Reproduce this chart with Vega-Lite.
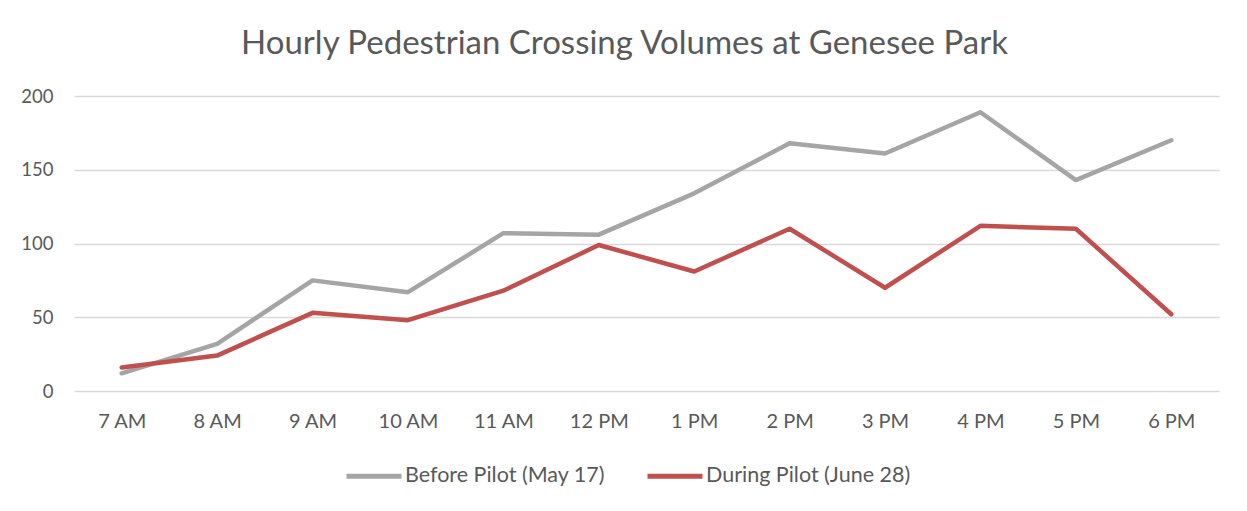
{
  "$schema": "https://vega.github.io/schema/vega-lite/v6.json",
  "autosize": {"type": "none"},
  "width": 1145,
  "height": 295,
  "padding": {"left": 74, "top": 96, "right": 28, "bottom": 120},
  "background": "white",
  "config": {
    "font": "Lato",
    "view": {"stroke": null},
    "axis": {"labelColor": "#595959", "labelFont": "Lato", "titleColor": "#595959"},
    "legend": {"labelColor": "#595959", "labelFont": "Lato", "labelFontSize": 21.5, "labelLimit": 400}
  },
  "title": {
    "text": "Hourly Pedestrian Crossing Volumes at Genesee Park",
    "font": "Lato",
    "fontSize": 33,
    "fontWeight": "normal",
    "color": "#595959",
    "anchor": "middle",
    "dx": -22,
    "offset": 26
  },
  "data": {
    "values": [
      {"hour": "7 AM", "series": "Before Pilot (May 17)", "count": 12},
      {"hour": "8 AM", "series": "Before Pilot (May 17)", "count": 32},
      {"hour": "9 AM", "series": "Before Pilot (May 17)", "count": 75},
      {"hour": "10 AM", "series": "Before Pilot (May 17)", "count": 67},
      {"hour": "11 AM", "series": "Before Pilot (May 17)", "count": 107},
      {"hour": "12 PM", "series": "Before Pilot (May 17)", "count": 106},
      {"hour": "1 PM", "series": "Before Pilot (May 17)", "count": 134},
      {"hour": "2 PM", "series": "Before Pilot (May 17)", "count": 168},
      {"hour": "3 PM", "series": "Before Pilot (May 17)", "count": 161},
      {"hour": "4 PM", "series": "Before Pilot (May 17)", "count": 189},
      {"hour": "5 PM", "series": "Before Pilot (May 17)", "count": 143},
      {"hour": "6 PM", "series": "Before Pilot (May 17)", "count": 170},
      {"hour": "7 AM", "series": "During Pilot (June 28)", "count": 16},
      {"hour": "8 AM", "series": "During Pilot (June 28)", "count": 24},
      {"hour": "9 AM", "series": "During Pilot (June 28)", "count": 53},
      {"hour": "10 AM", "series": "During Pilot (June 28)", "count": 48},
      {"hour": "11 AM", "series": "During Pilot (June 28)", "count": 68},
      {"hour": "12 PM", "series": "During Pilot (June 28)", "count": 99},
      {"hour": "1 PM", "series": "During Pilot (June 28)", "count": 81},
      {"hour": "2 PM", "series": "During Pilot (June 28)", "count": 110},
      {"hour": "3 PM", "series": "During Pilot (June 28)", "count": 70},
      {"hour": "4 PM", "series": "During Pilot (June 28)", "count": 112},
      {"hour": "5 PM", "series": "During Pilot (June 28)", "count": 110},
      {"hour": "6 PM", "series": "During Pilot (June 28)", "count": 52}
    ]
  },
  "mark": {"type": "line", "strokeWidth": 4.5, "strokeJoin": "round", "strokeCap": "round"},
  "encoding": {
    "x": {
      "field": "hour",
      "type": "ordinal",
      "sort": null,
      "scale": {"type": "point", "padding": 0.5},
      "axis": {"title": null, "labelAngle": 0, "ticks": false, "domain": false, "grid": false, "labelPadding": 20, "labelFontSize": 20}
    },
    "y": {
      "field": "count",
      "type": "quantitative",
      "scale": {"domain": [0, 200], "nice": false},
      "axis": {"title": null, "values": [0, 50, 100, 150, 200], "ticks": false, "domain": false, "gridColor": "#d9d9d9", "gridWidth": 1.3, "labelPadding": 21, "labelFontSize": 18.5}
    },
    "color": {
      "field": "series",
      "type": "nominal",
      "scale": {"domain": ["Before Pilot (May 17)", "During Pilot (June 28)"], "range": ["#a5a5a5", "#c0504d"]},
      "legend": {
        "title": null,
        "orient": "none",
        "direction": "horizontal",
        "legendX": 270,
        "legendY": 350,
        "symbolType": "stroke",
        "symbolSize": 3025,
        "symbolStrokeWidth": 5,
        "labelOffset": 1,
        "columnPadding": 32
      }
    }
  }
}
